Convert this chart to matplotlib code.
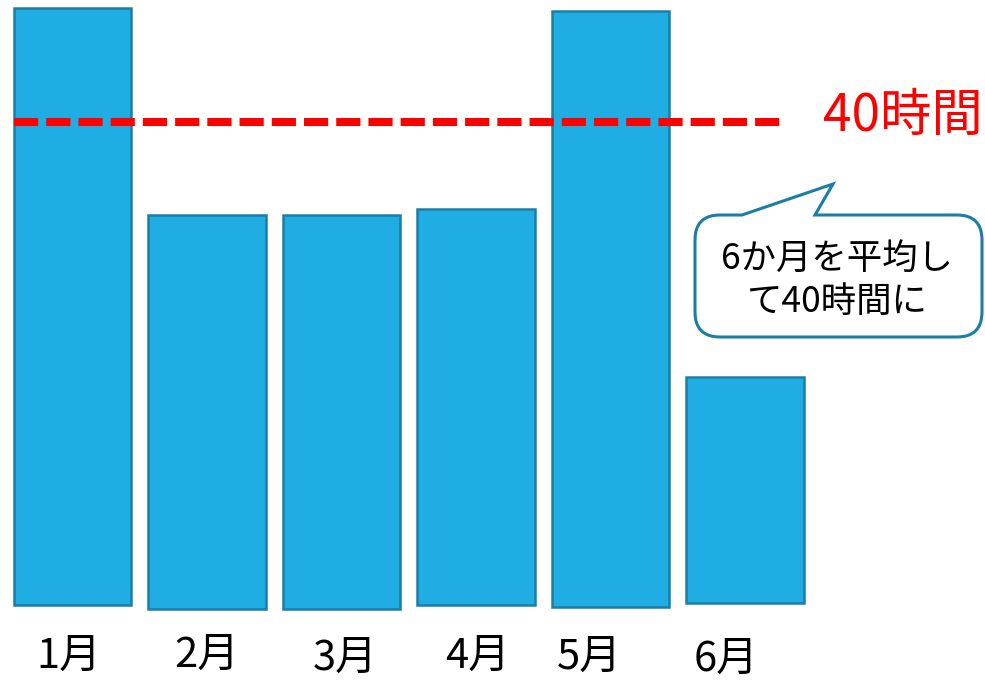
import numpy as np
import matplotlib
matplotlib.use("Agg")
import matplotlib.pyplot as plt
from matplotlib.path import Path
import matplotlib.patches as mpatches

plt.rcParams['font.family'] = ['Noto Sans CJK JP', 'DejaVu Sans']

######## data (hours) ########
months = ["1月", "2月", "3月", "4月", "5月", "6月"]
tops = [49.4, 32.3, 32.3, 32.8, 49.2, 18.9]       # top of each bar
bottoms = [0.0, -0.33, -0.33, 0.0, -0.17, 0.17]   # bars are not quite on one baseline
limit = 40
limit_label = "40時間"
note_lines = ["6か月を平均し", "て40時間に"]

######## layout ########
px_per_unit = 134.5      # bar spacing in pixels
px_per_hour = 12.075
x0_px, base_px = 72.5, 605
W, H = 985, 682

bar_fill = '#1fade3'
bar_edge = '#1a7ea6'

fig = plt.figure(figsize=(W / 100, H / 100), dpi=100)
ax = fig.add_axes([0, 0, 1, 1])
ax.set_xlim(-x0_px / px_per_unit, (W - x0_px) / px_per_unit)
ax.set_ylim((base_px - H) / px_per_hour, base_px / px_per_hour)
ax.axis('off')

x = np.arange(len(months))
heights = np.array(tops) - np.array(bottoms)
ax.bar(x, heights, bottom=bottoms, width=0.87, color=bar_fill,
       edgecolor=bar_edge, linewidth=1.8, zorder=2)

# 40 hour line
ax.hlines(limit, -0.435, 5.305, colors='red', linewidth=5.8,
          linestyles=(0, (3, 1)), zorder=3)
line_dashes = ax.collections[-1]
line_dashes.set_capstyle('butt')
ax.text(5.58, limit + 0.5, limit_label, color='red', fontsize=37,
        ha='left', va='center')

# month labels (hand placed under the bars)
label_dx_px = [-3.5, 0, 3.5, 1, -21.5, -19]
label_y_px = [656, 655, 658, 656, 657, 659]
for i, m in enumerate(months):
    ax.text(i + label_dx_px[i] / px_per_unit, (base_px - label_y_px[i]) / px_per_hour,
            m, fontsize=30, ha='center', va='center')

# speech bubble, drawn in pixel space
ov = fig.add_axes([0, 0, 1, 1])
ov.set_xlim(0, W)
ov.set_ylim(H, 0)
ov.axis('off')

bx0, bx1, by0, by1, r = 695, 982, 215, 337, 25
verts = [(bx0 + r, by0), (742, by0), (833, 184), (815, by0), (bx1 - r, by0),
         (bx1, by0), (bx1, by0 + r),
         (bx1, by1 - r),
         (bx1, by1), (bx1 - r, by1),
         (bx0 + r, by1),
         (bx0, by1), (bx0, by1 - r),
         (bx0, by0 + r),
         (bx0, by0), (bx0 + r, by0),
         (bx0 + r, by0)]
codes = [Path.MOVETO, Path.LINETO, Path.LINETO, Path.LINETO, Path.LINETO,
         Path.CURVE3, Path.CURVE3,
         Path.LINETO,
         Path.CURVE3, Path.CURVE3,
         Path.LINETO,
         Path.CURVE3, Path.CURVE3,
         Path.LINETO,
         Path.CURVE3, Path.CURVE3,
         Path.CLOSEPOLY]
bubble = mpatches.PathPatch(Path(verts, codes), facecolor='white',
                            edgecolor=bar_edge, linewidth=2.2, joinstyle='miter')
ov.add_patch(bubble)
ov.text(837, 259, note_lines[0], fontsize=25.5, ha='center', va='center')
ov.text(837, 302, note_lines[1], fontsize=25.5, ha='center', va='center')

fig.savefig("out.png", dpi=100)
